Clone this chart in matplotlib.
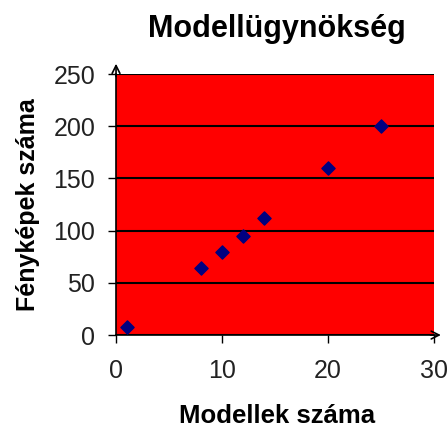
import matplotlib.pyplot as plt
from matplotlib import font_manager

# Modellek és fényképek száma
modellek = [1, 8, 10, 12, 14, 20, 25]
fenykepek = [8, 64, 80, 95, 112, 160, 200]

x_ticks = [0, 10, 20, 30]
y_ticks = [0, 50, 100, 150, 200, 250]

names = {f.name for f in font_manager.fontManager.ttflist}
tick_font = "Liberation Sans Narrow" if "Liberation Sans Narrow" in names else "Liberation Sans"
plt.rcParams["font.family"] = ["Liberation Sans", "DejaVu Sans"]

fig = plt.figure(figsize=(4.48, 4.29), dpi=100)
ax = fig.add_axes([0.259, 0.219, 0.71, 0.6085])
ax.set_facecolor("#ff0000")

ax.scatter(modellek, fenykepek, marker="D", s=45, color="#000080", zorder=3)

ax.set_xlim(0, 30)
ax.set_ylim(0, 250)
ax.set_xticks(x_ticks)
ax.set_yticks(y_ticks)
ax.tick_params(length=6, width=1, colors="black")
ax.tick_params(axis="y", pad=9)
ax.tick_params(axis="x", pad=11)
for lab in ax.get_xticklabels() + ax.get_yticklabels():
    lab.set_fontfamily(tick_font)
    lab.set_fontsize(18)
    lab.set_color("#222222")

# vízszintes rácsvonalak
ax.yaxis.grid(True, color="black", linewidth=1.5)
ax.set_axisbelow(False)

for side in ["top", "right"]:
    ax.spines[side].set_visible(False)
ax.spines["left"].set_linewidth(1.2)
ax.spines["bottom"].set_linewidth(1.2)

# nyilak a tengelyek végén
ax.annotate("", xy=(0, 1.05), xytext=(0, 0.98), xycoords="axes fraction",
            arrowprops=dict(arrowstyle="->", color="black", lw=1.2,
                            mutation_scale=14), annotation_clip=False)
ax.annotate("", xy=(1.03, 0), xytext=(0.98, 0), xycoords="axes fraction",
            arrowprops=dict(arrowstyle="->", color="black", lw=1.2,
                            mutation_scale=14), annotation_clip=False)

fig.text(277 / 448, 1 - 37 / 429, "Modellügynökség", fontsize=22,
         fontweight="bold", ha="center", va="baseline")
fig.text(277 / 448, 1 - 423 / 429, "Modellek száma", fontsize=18.5,
         fontweight="bold", ha="center", va="baseline")
fig.text(28 / 448, 1 - 205 / 429, "Fényképek száma", fontsize=18,
         fontweight="bold", ha="center", va="center", rotation=90)

fig.savefig("out.png", dpi=100)
